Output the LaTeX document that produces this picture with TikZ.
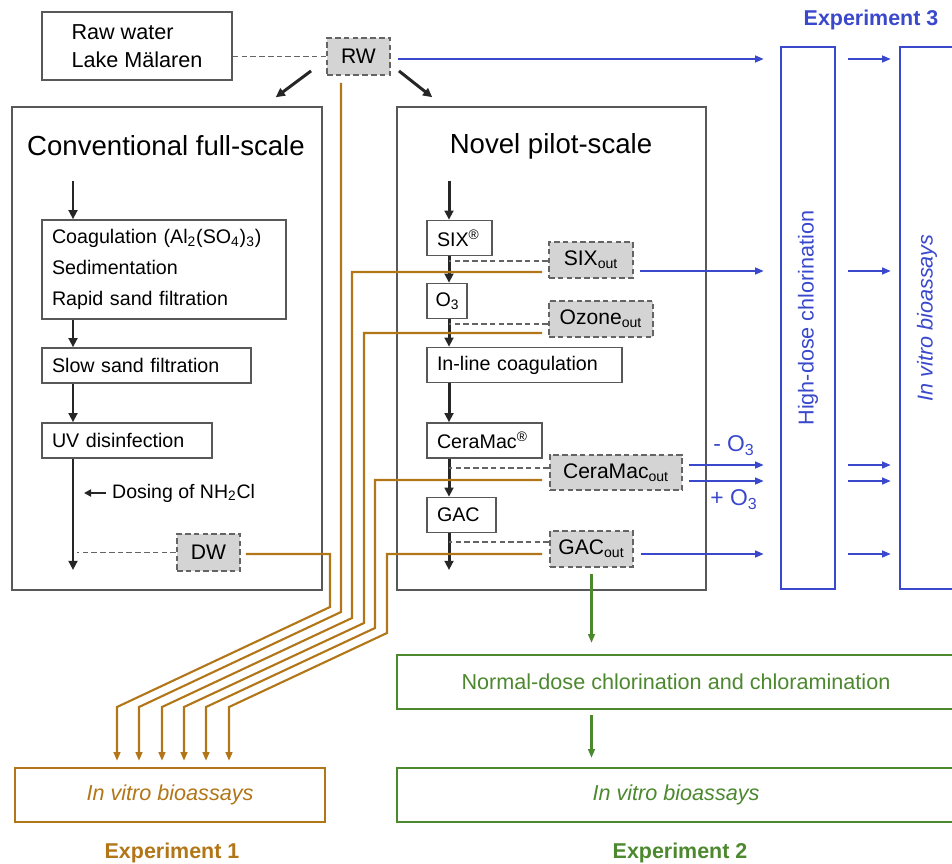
\documentclass[tikz,border=0pt]{standalone}
\usepackage{fontspec}
\setmainfont{Liberation Sans}
\usetikzlibrary{calc,arrows.meta}
\definecolor{exbrown}{RGB}{178,118,24}
\definecolor{exgreen}{RGB}{76,136,46}
\definecolor{exblue}{RGB}{58,72,204}
\definecolor{framegray}{RGB}{88,88,88}
\definecolor{dashgray}{RGB}{100,100,100}
\definecolor{samplefill}{RGB}{212,212,212}
\newcommand{\sub}[1]{\textsubscript{#1}}

\begin{document}
\begin{tikzpicture}[x=0.02cm, y=-0.02cm,
    plainbox/.style={draw=framegray, line width=0.9pt},
    stagebox/.style={plainbox, inner xsep=0.2cm, inner ysep=0pt, minimum height=0.7cm, align=left, font=\fontsize{11.2}{13.4}\selectfont},
    samplebox/.style={draw=dashgray, fill=samplefill, line width=1.1pt, dash pattern=on 3.2pt off 1.8pt, inner sep=0pt, minimum height=0.72cm, font=\fontsize{12}{14}\selectfont},
    titletext/.style={font=\fontsize{15.7}{18}\selectfont},
    flowline/.style={draw=black!85, line width=1.7pt, -{Triangle[length=5.2pt,width=5pt]}},
    tapline/.style={draw=dashgray, line width=1.1pt, dash pattern=on 3.2pt off 1.8pt},
    onebox/.style={draw=exbrown, line width=1.3pt, text=exbrown, minimum height=1.08cm, font=\fontsize{12.3}{14}\selectfont\itshape},
    oneline/.style={draw=exbrown, line width=1.2pt, shorten >=0.12cm, -{Triangle[length=5pt,width=3.8pt]}},
    twobox/.style={draw=exgreen, line width=1.3pt, text=exgreen, minimum height=1.08cm, minimum width=11.16cm, font=\fontsize{12.3}{14}\selectfont},
    twoline/.style={draw=exgreen, line width=1.2pt, -{Triangle[length=5pt,width=3.8pt]}},
    threebox/.style={draw=exblue, line width=1.3pt, text=exblue, inner sep=0pt, minimum width=1.08cm, minimum height=10.84cm, font=\fontsize{12.3}{14}\selectfont},
    threeline/.style={draw=exblue, line width=1.2pt, -{Triangle[length=5pt,width=3.8pt]}},
    explabel/.style={font=\fontsize{12.2}{14}\selectfont\bfseries}]
    %%%%% START %%%%%
    \clip (0,0) rectangle (952,864);

    % source
    \node[plainbox, align=left, minimum width=3.8cm, minimum height=1.36cm, font=\fontsize{12.3}{15.9}\selectfont] (raw) at (137,46) {Raw water\\Lake Mälaren};
    \node[samplebox, minimum width=1.26cm, minimum height=0.74cm] (rw) at (358.5,56.5) {RW};
    \draw[tapline] (raw.east |- rw.west) -- (rw.west);

    % two plants
    \node[plainbox, minimum width=6.2cm, minimum height=9.66cm] (conv) at (167,348.5) {};
    \node[plainbox, minimum width=6.18cm, minimum height=9.66cm] (novel) at (551.5,348.5) {};
    \node[titletext] (convtitle) at (166,146) {Conventional full-scale};
    \node[titletext] (noveltitle) at (551,146) {Novel pilot-scale};
    \draw[flowline] ($(rw.south west)+(-15,-5)$) -- ($(conv.north east)+(-47,-9)$);
    \draw[flowline] ($(rw.south east)+(8,-5)$) -- ($(novel.north west)+(36,-9)$);

    % full-scale train
    \coordinate (inA) at (73,181);
    \coordinate (outA) at (73,570);
    \node[stagebox, text width=4.48cm, minimum height=1.98cm, font=\fontsize{11.2}{17.6}\selectfont] (coag) at (164,269.5) {Coagulation (Al\sub{2}(SO\sub{4})\sub{3})\\Sedimentation\\Rapid sand filtration};
    \node[stagebox, text width=3.78cm] (slow) at (146.5,365.5) {Slow sand filtration};
    \node[stagebox, text width=3.0cm] (uv) at (127,440.5) {UV disinfection};
    \draw[flowline] (inA) -- (inA |- coag.north);
    \draw[flowline] (coag.south -| inA) -- (slow.north -| inA);
    \draw[flowline] (slow.south -| inA) -- (uv.north -| inA);
    \draw[flowline] (uv.south -| inA) -- (outA);
    \node[anchor=west, font=\fontsize{11.1}{13}\selectfont] (dose) at (106,493) {Dosing of NH\sub{2}Cl};
    \draw[draw=black!85, line width=1.2pt, shorten >=0.22cm, -{Triangle[length=4pt,width=4pt]}] (dose.west) -- (dose.west -| outA);
    \node[samplebox, minimum width=1.26cm, minimum height=0.74cm] (dw) at (208.5,552.5) {DW};
    \draw[tapline, shorten >=0.08cm] (dw.west) -- (dw.west -| outA);

    % pilot-scale train
    \coordinate (inB) at (449,181);
    \coordinate (outB) at (449,570);
    \node[stagebox, text width=0.9cm] (six) at (459.5,238) {SIX\textsuperscript{®}};
    \node[stagebox, inner xsep=0.17cm, text width=0.46cm] (othree) at (447,301) {O\sub{3}};
    \node[stagebox, text width=3.5cm] (inline) at (524.5,365) {In-line coagulation};
    \node[stagebox, text width=1.9cm] (ceramac) at (484.5,440.5) {CeraMac\textsuperscript{®}};
    \node[stagebox, text width=0.98cm] (gac) at (461.5,515) {GAC};
    \draw[flowline] (inB) -- (inB |- six.north);
    \draw[flowline] (six.south -| inB) -- (othree.north -| inB);
    \draw[flowline] (othree.south -| inB) -- (inline.north -| inB);
    \draw[flowline] (inline.south -| inB) -- (ceramac.north -| inB);
    \draw[flowline] (ceramac.south -| inB) -- (gac.north -| inB);
    \draw[flowline] (gac.south -| inB) -- (outB);

    % sampling points
    \node[samplebox, minimum width=1.68cm] (sixo) at (591,260) {SIX\sub{out}};
    \node[samplebox, minimum width=2.08cm] (ozo) at (601,319) {Ozone\sub{out}};
    \node[samplebox, minimum width=2.64cm, minimum height=0.7cm] (cero) at (616,472.5) {CeraMac\sub{out}};
    \node[samplebox, minimum width=1.66cm] (gaco) at (591.5,549) {GAC\sub{out}};
    \coordinate (sixD) at ($(sixo.west)+(0,1)$);
    \coordinate (ozoD) at ($(ozo.west)+(0,5)$);
    \coordinate (cerD) at ($(cero.west)+(0,-4.5)$);
    \coordinate (gacD) at ($(gaco.west)+(0,-7)$);
    \draw[tapline] (sixD) -- (sixD -| inB);
    \draw[tapline] (ozoD) -- (ozoD -| inB);
    \draw[tapline] (cerD) -- (cerD -| inB);
    \draw[tapline] (gacD) -- (gacD -| inB);

    % experiment 1
    \node[onebox, minimum width=6.2cm] (bioone) at (170,795) {In vitro bioassays};
    \node[explabel, text=exbrown] (expone) at (172,853) {Experiment 1};
    \coordinate (dwT) at ($(dw.east)+(5,1.5)$);
    \coordinate (rwT) at ($(rw.south)+(-17.5,7)$);
    \coordinate (sixT) at ($(sixo.west)+(-6,12)$);
    \coordinate (ozoT) at ($(ozo.west)+(-6,14)$);
    \coordinate (cerT) at ($(cero.west)+(-7,7.5)$);
    \coordinate (gacT) at ($(gaco.west)+(-7,5)$);
    \draw[oneline] (dwT) -| (330,607) -- (117,707) -- (117,707 |- bioone.north);
    \draw[oneline] (rwT) -- (341,612) -- (139,707) -- (139,707 |- bioone.north);
    \draw[oneline] (sixT) -| (352,618) -- (162,707) -- (162,707 |- bioone.north);
    \draw[oneline] (ozoT) -| (364,623) -- (184,707) -- (184,707 |- bioone.north);
    \draw[oneline] (cerT) -| (375,628) -- (206,707) -- (206,707 |- bioone.north);
    \draw[oneline] (gacT) -| (387,633) -- (229,707) -- (229,707 |- bioone.north);

    % experiment 2
    \node[twobox] (normal) at (676,682) {Normal-dose chlorination and chloramination};
    \node[twobox, font=\fontsize{12.3}{14}\selectfont\itshape] (biotwo) at (676,795) {In vitro bioassays};
    \node[explabel, text=exgreen] (exptwo) at (680,853) {Experiment 2};
    \draw[twoline, shorten <=0.12cm, shorten >=0.22cm] (gaco.south) -- (gaco.south |- normal.north);
    \draw[twoline, shorten <=0.1cm, shorten >=0.18cm] (normal.south -| gaco.south) -- (biotwo.north -| gaco.south);

    % experiment 3
    \node[threebox] (high) at (808,318) {\rotatebox{90}{High-dose chlorination}};
    \node[threebox, font=\fontsize{12.3}{14}\selectfont\itshape] (biothree) at (927,318) {\rotatebox{90}{In vitro bioassays}};
    \node[explabel, text=exblue] (expthree) at (871,20) {Experiment 3};
    \coordinate (rwB) at ($(rw.east)+(7,2.5)$);
    \coordinate (sixB) at ($(sixo.east)+(6,11)$);
    \coordinate (cerB1) at ($(cero.east)+(6,-7.5)$);
    \coordinate (cerB2) at ($(cero.east)+(6,8.5)$);
    \coordinate (gacB) at ($(gaco.east)+(7,5)$);
    \foreach \pt in {rwB,sixB,cerB1,cerB2,gacB} {
        \draw[threeline, shorten >=0.32cm] (\pt) -- (\pt -| high.west);
        \draw[threeline, shorten <=0.24cm, shorten >=0.16cm] (\pt -| high.east) -- (\pt -| biothree.west);
    }
    \node[text=exblue, font=\fontsize{13}{15}\selectfont] (minuso) at (734,446) {- O\sub{3}};
    \node[text=exblue, font=\fontsize{13}{15}\selectfont] (pluso) at (734,500) {+ O\sub{3}};
    %%%%% END %%%%%
\end{tikzpicture}
\end{document}
